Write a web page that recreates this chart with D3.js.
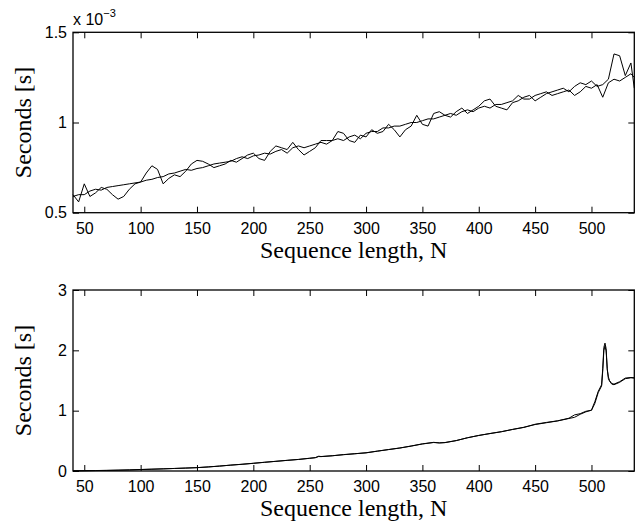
<!DOCTYPE html>
<html lang="en">
<head>
    <meta charset="UTF-8">
    <title>Sequence length timing</title>
    <script src="https://cdn.jsdelivr.net/npm/d3@7/dist/d3.min.js"></script>
    <style>
        body { margin: 0; background: #fff; }
        .tick text { font-family: "Liberation Sans", Arial, sans-serif; font-size: 16px; fill: #000; }
        .tick line { stroke: #000; stroke-width: 1; }
        .title { font-family: "Liberation Serif", "Times New Roman", serif; font-size: 24px; fill: #000; }
        .series { fill: none; stroke: #000; stroke-width: 1; stroke-linejoin: round; }
    </style>
</head>
<body>
    <svg width="639" height="523"></svg>
    <script>
        // top panel: time per call, in units of 1e-3 s
        const topN = [40,45,50,55,60,65,70,75,80,85,90,95,100,105,110,115,120,125,130,135,
            140,145,150,155,160,165,170,175,180,185,190,195,200,205,210,215,220,225,230,235,
            240,245,250,255,260,265,270,275,280,285,290,295,300,305,310,315,320,325,330,335,
            340,345,350,355,360,365,370,375,380,385,390,395,400,405,410,415,420,425,430,435,
            440,445,450,455,460,465,470,475,480,485,490,495,500,505,510,515,520,525,530,535,538];
        const topA = [0.60,0.56,0.66,0.59,0.61,0.64,0.63,0.60,0.575,0.59,0.63,0.66,0.67,0.72,0.76,0.74,0.66,0.69,0.71,0.70,
            0.73,0.77,0.79,0.785,0.77,0.75,0.76,0.77,0.79,0.78,0.80,0.82,0.83,0.80,0.79,0.84,0.87,0.86,0.85,0.89,
            0.85,0.82,0.84,0.86,0.90,0.90,0.90,0.95,0.94,0.90,0.89,0.93,0.92,0.96,0.94,0.95,0.99,0.96,0.92,0.96,
            0.98,1.04,0.99,0.98,1.05,1.06,1.04,1.03,1.06,1.08,1.05,1.07,1.09,1.12,1.13,1.09,1.08,1.07,1.11,1.12,
            1.14,1.15,1.12,1.14,1.16,1.17,1.18,1.19,1.17,1.20,1.22,1.21,1.23,1.20,1.21,1.24,1.38,1.37,1.26,1.33,1.19];
        const topB = [0.59,0.60,0.60,0.62,0.63,0.625,0.64,0.645,0.65,0.655,0.66,0.665,0.67,0.68,0.685,0.695,0.70,0.715,0.72,0.73,
            0.74,0.735,0.745,0.75,0.76,0.77,0.775,0.78,0.785,0.80,0.81,0.80,0.815,0.82,0.83,0.825,0.84,0.85,0.83,0.86,
            0.87,0.86,0.87,0.88,0.89,0.88,0.90,0.91,0.90,0.92,0.93,0.91,0.94,0.95,0.95,0.97,0.97,0.98,0.98,0.99,
            1.00,1.00,1.01,1.02,1.02,1.03,1.04,1.05,1.04,1.06,1.07,1.06,1.08,1.09,1.08,1.10,1.10,1.11,1.12,1.15,
            1.13,1.13,1.15,1.16,1.17,1.15,1.16,1.17,1.18,1.15,1.17,1.20,1.19,1.21,1.14,1.22,1.24,1.23,1.25,1.27,1.25];
        const topYTicks = [0.5, 1, 1.5];

        // bottom panel: total time, seconds
        const botN = [40,50,60,70,80,90,100,110,120,130,140,150,160,170,180,190,200,210,220,230,
            240,250,255,258,260,270,280,290,300,310,320,330,340,350,360,365,370,380,390,400,
            410,420,430,440,450,460,470,480,485,490,495,500,503,506,509,510,511,512,513,514,
            515,516,518,520,525,530,535,538];
        const botA = [0.003,0.005,0.008,0.010,0.014,0.018,0.025,0.030,0.036,0.042,0.048,0.055,0.068,0.082,0.097,0.112,0.127,0.145,0.160,0.176,
            0.192,0.210,0.220,0.245,0.240,0.252,0.270,0.285,0.303,0.330,0.355,0.380,0.415,0.450,0.475,0.465,0.470,0.505,0.550,0.590,
            0.620,0.650,0.690,0.725,0.770,0.800,0.830,0.870,0.890,0.940,0.980,1.010,1.150,1.320,1.430,1.700,2.050,2.120,2.030,1.700,
            1.530,1.490,1.440,1.430,1.470,1.530,1.545,1.540];
        const botB = [0.003,0.005,0.007,0.010,0.013,0.018,0.024,0.030,0.035,0.042,0.049,0.056,0.067,0.081,0.098,0.111,0.128,0.144,0.161,0.177,
            0.191,0.212,0.222,0.240,0.238,0.253,0.272,0.287,0.300,0.328,0.356,0.382,0.412,0.448,0.472,0.466,0.472,0.503,0.552,0.588,
            0.622,0.652,0.688,0.722,0.775,0.805,0.832,0.875,0.930,0.950,0.990,1.005,1.120,1.300,1.410,1.660,2.000,2.070,1.990,1.680,
            1.560,1.500,1.450,1.440,1.480,1.540,1.550,1.545];
        const botYTicks = [0, 1, 2, 3];

        const xTicks = [50, 100, 150, 200, 250, 300, 350, 400, 450, 500];

        const svg = d3.select("svg");
        const left = 73, right = 634.3;

        function panel(top, bottom, yDomain, yTicks, nArr, seriesList) {
            const x = d3.scaleLinear().domain([40, 538]).range([left, right]);
            const y = d3.scaleLinear().domain(yDomain).range([bottom, top]);
            const g = svg.append("g");

            const fmt = d3.format("~g");

            g.append("g")
                .attr("transform", `translate(0,${bottom})`)
                .call(d3.axisBottom(x).tickValues(xTicks).tickSize(-6).tickSizeOuter(0).tickPadding(9.5).tickFormat(fmt))
                .call(a => a.select(".domain").remove());
            g.append("g")
                .attr("transform", `translate(0,${top})`)
                .call(d3.axisTop(x).tickValues(xTicks).tickSize(-6).tickSizeOuter(0).tickFormat(""))
                .call(a => a.select(".domain").remove());
            g.append("g")
                .attr("transform", `translate(${left},0)`)
                .call(d3.axisLeft(y).tickValues(yTicks).tickSize(-6).tickSizeOuter(0).tickPadding(6).tickFormat(fmt))
                .call(a => a.select(".domain").remove());
            g.append("g")
                .attr("transform", `translate(${right},0)`)
                .call(d3.axisRight(y).tickValues(yTicks).tickSize(-6).tickSizeOuter(0).tickFormat(""))
                .call(a => a.select(".domain").remove());

            g.selectAll(".tick text").attr("fill", "#000");

            const line = d3.line()
                .x((d, i) => x(nArr[i]))
                .y(d => y(d));

            g.selectAll("path.series")
                .data(seriesList)
                .join("path")
                .attr("class", "series")
                .attr("d", line);

            g.append("rect")
                .attr("x", left).attr("y", top)
                .attr("width", right - left).attr("height", bottom - top)
                .attr("fill", "none").attr("stroke", "#000").attr("stroke-width", 1.3);

            g.append("text")
                .attr("class", "title")
                .attr("x", (left + right) / 2)
                .attr("y", bottom + 45)
                .attr("text-anchor", "middle")
                .text("Sequence length, N");

            g.append("text")
                .attr("class", "title")
                .attr("transform", `translate(31,${(top + bottom) / 2}) rotate(-90)`)
                .attr("text-anchor", "middle")
                .text("Seconds [s]");
        }

        panel(32.3, 212.7, [0.5, 1.5], topYTicks, topN, [topA, topB]);
        panel(290, 471, [0, 3], botYTicks, botN, [botA, botB]);

        // exponent label of the top panel
        const expo = svg.append("text")
            .attr("x", 73).attr("y", 25)
            .style("font-family", "Liberation Sans, Arial, sans-serif")
            .style("font-size", "16px");
        expo.append("tspan").text("x 10");
        expo.append("tspan").attr("dy", -8).style("font-size", "11px").text("\u22123");
    </script>
</body>
</html>
